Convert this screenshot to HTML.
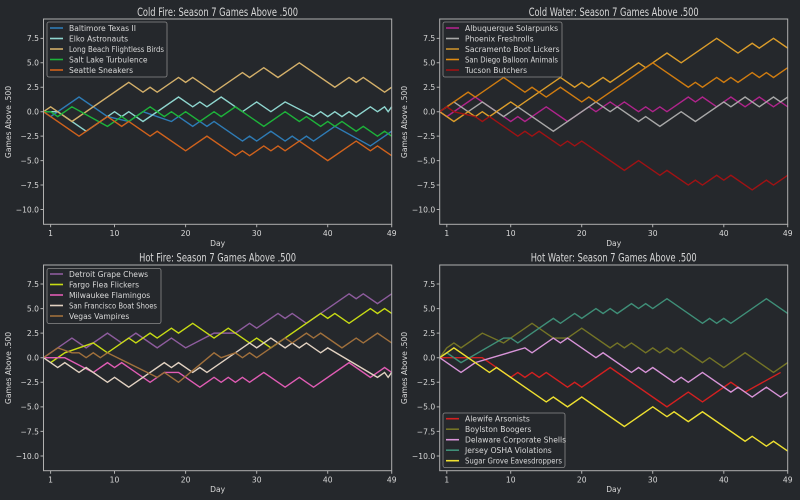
<!DOCTYPE html>
<html><head><meta charset="utf-8"><style>
html,body{margin:0;padding:0;background:#25282c;}
svg{display:block;font-family:"DejaVu Sans","Liberation Sans",sans-serif;}
text{fill:#d8d8d8;}
.t{font-size:11.5px;text-anchor:middle;}
.tk{font-size:7.6px;}
.lg{font-size:7.6px;}
polyline{fill:none;stroke-width:1.4;vector-effect:non-scaling-stroke;stroke-linejoin:miter;}
.ax{fill:none;stroke:#b0b0b0;stroke-width:1;}
.tl{stroke:#b0b0b0;stroke-width:1;}
.lb{fill:#25282c;stroke:#8a8a8a;stroke-width:0.8;}
</style></head><body>
<svg width="800" height="500" viewBox="0 0 800 500">
<rect width="800" height="500" fill="#25282c"/>

<g>
<text class="t" x="217.6" y="15.8" textLength="161" lengthAdjust="spacingAndGlyphs">Cold Fire: Season 7 Games Above .500</text>
<g transform="translate(43.5,111.7) scale(7.106,-9.78)">
<polyline stroke="#2e7bb5" points="0,0 1,-0.5 5,1.5 9,-0.5 12,-1 14,0 18,-1 19,-0.5 21,-1.5 22,-1 23,-1.5 24,-1 28,-3 29,-2.5 30,-3 32,-2 34,-3 35,-2.5 36,-3 37,-2.5 38,-3 41,-1.5 46,-3.5 48,-2.5 49,-2"/>
<polyline stroke="#8fd6cf" points="0,0 2,0 6,-2 10,0 11,-0.5 12,0 14,-1 19,1.5 21,0.5 22,1 23,0.5 25,1.5 28,0 30,1 32,0 34,1 38,-0.5 39,0 40,-0.5 41,0 42,-0.5 43,0 44,-0.5 46,0.5 47,0 48,0.5 48.5,0 49,0.5"/>
<polyline stroke="#d4b06a" points="0,0 1,0.5 4,-1 12,3 14,2 15,2.5 16,2 19,3.5 20,3 21,3.5 24,2 28,4 29,3.5 31,4.5 33,3.5 36,5 41,2.5 43,3.5 44,3 45,3.5 48,2 49,2.5"/>
<polyline stroke="#1db33a" points="0,0 1,0 2,-0.5 4,0.5 9,-1.5 11,-0.5 12,-1 15,0.5 17,-0.5 18,0 19,-0.5 20,0 22,-1 24,0 25,-0.5 27,0.5 31,-1.5 34,0 36,-1 37,-0.5 39,-1.5 40,-1 41,-1.5 42,-1 44,-2 45,-1.5 47,-2.5 48,-2 49,-2.5"/>
<polyline stroke="#d0621c" points="0,0 5,-2.5 9,-0.5 11,-1.5 12,-1 15,-2.5 16,-2 20,-4 23,-2.5 27,-4.5 28,-4 29,-4.5 31,-3.5 32,-4 33,-3.5 34,-4 36,-3 40,-5 44,-3 46,-4 47,-3.5 49,-4.5"/>
</g>
<rect class="ax" x="43.5" y="19" width="348.2" height="205.3"/>
</g>

<g>
<text class="t" x="613.7" y="15.8" textLength="170" lengthAdjust="spacingAndGlyphs">Cold Water: Season 7 Games Above .500</text>
<g transform="translate(439.7,111.7) scale(7.102,-9.78)">
<polyline stroke="#b0248c" points="0,0 1,-0.5 5,1.5 6,1 9,-0.5 10,-1 11,-0.5 12,-1 15,0.5 18,-1 21,0.5 22,0 24,1 25,0.5 26,1 28,0 29,0.5 30,0 31,0.5 32,0 35,1.5 36,1 37,1.5 39,0.5 41,1.5 43,0.5 45,1.5 47,0.5 48,1 49,0.5"/>
<polyline stroke="#a8a8a8" points="0,0 2,1 4,0 6,1 9,-0.5 11,0.5 16,-2 22,1 24,0 25,0.5 28,-1 29,-0.5 31,-1.5 34,0 36,-1 40,1 41,0.5 43,1.5 45,0.5 47,1.5 48,1 49,1.5"/>
<polyline stroke="#dc9d2a" points="0,0 2,-1 4,0 5,-0.5 6,0 7,-0.5 10,1 11,0.5 17,3.5 19,2.5 20,3 21,2.5 23,3.5 24,3 28,5 29,4.5 32,6 34,5 39,7.5 42,6 44,7 45,6.5 47,7.5 49,6.5"/>
<polyline stroke="#d07c10" points="0,0 4,2 5,1.5 9,3.5 12,2 13,2.5 15,1.5 17,2.5 20,1 21,1.5 22,1 30,5 35,2.5 36,3 37,2.5 39,3.5 40,3 41,3.5 42,3 44,4 45,3.5 46,4 47,3.5 49,4.5"/>
<polyline stroke="#a01214" points="0,0 1,0.5 2,0 5,-0.5 6,-1 7,-0.5 11,-2.5 12,-2 13,-2.5 14,-2 17,-3.5 18,-3 19,-3.5 20,-3 26,-6 28,-5 31,-6.5 32,-6 35,-7.5 36,-7 37,-7.5 39,-6.5 40,-7 41,-6.5 44,-8 46,-7 47,-7.5 49,-6.5"/>
</g>
<rect class="ax" x="439.7" y="19" width="348" height="205.3"/>
</g>

<g>
<text class="t" x="217.6" y="261.3" textLength="157" lengthAdjust="spacingAndGlyphs">Hot Fire: Season 7 Games Above .500</text>
<g transform="translate(43.5,357.7) scale(7.106,-9.83)">
<polyline stroke="#8e5c9e" points="0,0 4,2 6,1 9,2.5 11,1.5 13,2.5 16,1 18,2 20,1 24,2.5 27,2.5 29,3.5 30,3 33,4.5 34,4 35,4.5 37,3.5 43,6.5 44,6 45,6.5 47,5.5 49,6.5"/>
<polyline stroke="#c8dc14" points="1,-0.5 3,0.5 7,1.5 9,0.5 12,2 13,1.5 15,2.5 16,2 18,3 19,2.5 21,3.5 24,2 26,3 29,1.5 30,2 32,1 39,4.5 40,4 41,4.5 43,3.5 46,5 47,4.5 48,5 49,4.5"/>
<polyline stroke="#e05cb4" points="0,0 3,0 7,-1.5 9,-0.5 10,-1 11,-0.5 15,-2.5 17,-1.5 19,-1.5 20,-2 22,-3 24,-2 25,-2.5 26,-2 27,-2.5 28,-2 29,-2.5 31,-1.5 34,-3 36,-2 38,-3 43,-0.5 46,-2 48,-1 49,-1.5"/>
<polyline stroke="#e2d2c2" points="0,0 2,-1 3,-0.5 5,-1.5 6,-1 9,-2.5 10,-2 12,-3 17,-0.5 18,-1 19,-0.5 21,-1.5 22,-1 23,-1.5 29,1.5 30,1 32,2 34,1 35,1.5 36,1 37,1.5 39,0.5 40,1 47,-2 48,-1.5 48.5,-2 49,-1.5"/>
<polyline stroke="#a0703c" points="0,0 2,1 4,0.5 5,0.5 6,0 7,0.5 8,0 9,0.5 16,-2 17,-1.5 19,-2.5 24,0.5 25,0 27,0.5 28,0 29,0.5 30,0 34,2 35,1.5 37,2.5 38,2 39,2.5 42,1 44,2 45,1.5 47,2.5 49,1.5"/>
</g>
<rect class="ax" x="43.5" y="265" width="348.2" height="205.7"/>
</g>

<g>
<text class="t" x="613.7" y="261.3" textLength="166" lengthAdjust="spacingAndGlyphs">Hot Water: Season 7 Games Above .500</text>
<g transform="translate(439.7,357.7) scale(7.102,-9.83)">
<polyline stroke="#d42020" points="0,0 6,0 10,-2 11,-1.5 12,-2 13,-1.5 14,-2 15,-1.5 18,-3 19,-2.5 20,-3 24,-1 32,-5 35,-3.5 37,-4.5 41,-2.5 42,-3 43,-3.5 48,-1.5"/>
<polyline stroke="#747426" points="0,0 1,1 2,1.5 3,1 6,2.5 9,1.5 13,3.5 16,2 18,2 20,3 24,1 25,1.5 26,1 27,1.5 29,0.5 30,1 31,0.5 32,1 33,0.5 34,1 37,-0.5 38,0 40,-1 43,0.5 47,-1.5 49,-0.5"/>
<polyline stroke="#d894d8" points="0,0 3,-1.5 5,-0.5 12,1 13,0.5 16,2 17,1.5 18,2 22,0 23,0.5 27,-1.5 28,-1 29,-1.5 30,-1 33,-2.5 34,-2 35,-2.5 37,-1.5 41,-3.5 42,-3 44,-4 46,-3 48,-4 49,-3.5"/>
<polyline stroke="#3f8f78" points="0,0 1,0.5 3,-0.5 9,2 10,2 11,1.5 16,4 17,3.5 19,4.5 20,4 22,5 23,4.5 24,5 25,4.5 27,5.5 28,5 29,5.5 30,5 32,6 37,3.5 38,4 39,3.5 40,4 41,3.5 46,6 49,4.5"/>
<polyline stroke="#eee030" points="0,0 2,1 7,-1.5 8,-1 15,-4.5 16,-4 18,-5 20,-4 26,-7 30,-5 32,-6 33,-5.5 35,-6.5 37,-5.5 43,-8.5 44,-8 46,-9 47,-8.5 49,-9.5"/>
</g>
<rect class="ax" x="439.7" y="265" width="348" height="205.7"/>
</g>

<g class="tk">
<g text-anchor="end">
<text x="39" y="41.2">7.5</text><text x="39" y="65.6">5.0</text><text x="39" y="90.1">2.5</text><text x="39" y="114.5">0.0</text><text x="39" y="139">−2.5</text><text x="39" y="163.4">−5.0</text><text x="39" y="187.9">−7.5</text><text x="39" y="212.3">−10.0</text>
<text x="435.2" y="41.2">7.5</text><text x="435.2" y="65.6">5.0</text><text x="435.2" y="90.1">2.5</text><text x="435.2" y="114.5">0.0</text><text x="435.2" y="139">−2.5</text><text x="435.2" y="163.4">−5.0</text><text x="435.2" y="187.9">−7.5</text><text x="435.2" y="212.3">−10.0</text>
<text x="39" y="286.8">7.5</text><text x="39" y="311.4">5.0</text><text x="39" y="336">2.5</text><text x="39" y="360.5">0.0</text><text x="39" y="385.1">−2.5</text><text x="39" y="409.7">−5.0</text><text x="39" y="434.3">−7.5</text><text x="39" y="458.8">−10.0</text>
<text x="435.2" y="286.8">7.5</text><text x="435.2" y="311.4">5.0</text><text x="435.2" y="336">2.5</text><text x="435.2" y="360.5">0.0</text><text x="435.2" y="385.1">−2.5</text><text x="435.2" y="409.7">−5.0</text><text x="435.2" y="434.3">−7.5</text><text x="435.2" y="458.8">−10.0</text>
</g>
<g class="tl">
<path d="M40.5 38.35h3M40.5 62.8h3M40.5 87.25h3M40.5 111.7h3M40.5 136.15h3M40.5 160.6h3M40.5 185.05h3M40.5 209.5h3"/>
<path d="M436.7 38.35h3M436.7 62.8h3M436.7 87.25h3M436.7 111.7h3M436.7 136.15h3M436.7 160.6h3M436.7 185.05h3M436.7 209.5h3"/>
<path d="M40.5 284h3M40.5 308.6h3M40.5 333.1h3M40.5 357.7h3M40.5 382.3h3M40.5 406.9h3M40.5 431.4h3M40.5 456h3"/>
<path d="M436.7 284h3M436.7 308.6h3M436.7 333.1h3M436.7 357.7h3M436.7 382.3h3M436.7 406.9h3M436.7 431.4h3M436.7 456h3"/>
<path d="M50.6 224.3v3M114.5 224.3v3M185.6 224.3v3M256.7 224.3v3M327.7 224.3v3M391.7 224.3v3"/>
<path d="M446.8 224.3v3M510.7 224.3v3M581.7 224.3v3M652.7 224.3v3M723.8 224.3v3M787.7 224.3v3"/>
<path d="M50.6 470.7v3M114.5 470.7v3M185.6 470.7v3M256.7 470.7v3M327.7 470.7v3M391.7 470.7v3"/>
<path d="M446.8 470.7v3M510.7 470.7v3M581.7 470.7v3M652.7 470.7v3M723.8 470.7v3M787.7 470.7v3"/>
</g>
<g text-anchor="middle">
<text x="50.6" y="236">1</text><text x="114.5" y="236">10</text><text x="185.6" y="236">20</text><text x="256.7" y="236">30</text><text x="327.7" y="236">40</text><text x="391.7" y="236">49</text>
<text x="446.8" y="236">1</text><text x="510.7" y="236">10</text><text x="581.7" y="236">20</text><text x="652.7" y="236">30</text><text x="723.8" y="236">40</text><text x="787.7" y="236">49</text>
<text x="50.6" y="482.5">1</text><text x="114.5" y="482.5">10</text><text x="185.6" y="482.5">20</text><text x="256.7" y="482.5">30</text><text x="327.7" y="482.5">40</text><text x="391.7" y="482.5">49</text>
<text x="446.8" y="482.5">1</text><text x="510.7" y="482.5">10</text><text x="581.7" y="482.5">20</text><text x="652.7" y="482.5">30</text><text x="723.8" y="482.5">40</text><text x="787.7" y="482.5">49</text>
<text x="217.6" y="246">Day</text><text x="613.7" y="246">Day</text>
<text x="217.6" y="492">Day</text><text x="613.7" y="492">Day</text>
</g>
<text text-anchor="middle" transform="translate(11,122) rotate(-90)">Games Above .500</text>
<text text-anchor="middle" transform="translate(407,122) rotate(-90)">Games Above .500</text>
<text text-anchor="middle" transform="translate(11,368) rotate(-90)">Games Above .500</text>
<text text-anchor="middle" transform="translate(407,368) rotate(-90)">Games Above .500</text>
</g>

<g class="lg">
<rect class="lb" x="47" y="22" width="120" height="55" rx="2"/>
<path d="M50 28h13" stroke="#2e7bb5" stroke-width="1.6"/><text x="69" y="30.8">Baltimore Texas II</text>
<path d="M50 38.5h13" stroke="#8fd6cf" stroke-width="1.6"/><text x="69" y="41.3">Elko Astronauts</text>
<path d="M50 49h13" stroke="#d4b06a" stroke-width="1.6"/><text x="69" y="51.8" textLength="95" lengthAdjust="spacingAndGlyphs">Long Beach Flightless Birds</text>
<path d="M50 59.5h13" stroke="#1db33a" stroke-width="1.6"/><text x="69" y="62.3">Salt Lake Turbulence</text>
<path d="M50 70h13" stroke="#d0621c" stroke-width="1.6"/><text x="69" y="72.8">Seattle Sneakers</text>

<rect class="lb" x="443" y="22" width="119" height="55" rx="2"/>
<path d="M446 28h13" stroke="#b0248c" stroke-width="1.6"/><text x="465" y="30.8">Albuquerque Solarpunks</text>
<path d="M446 38.5h13" stroke="#a8a8a8" stroke-width="1.6"/><text x="465" y="41.3">Phoenix Freshrolls</text>
<path d="M446 49h13" stroke="#c8902c" stroke-width="1.6"/><text x="465" y="51.8">Sacramento Boot Lickers</text>
<path d="M446 59.5h13" stroke="#e08a12" stroke-width="1.6"/><text x="465" y="62.3" textLength="93" lengthAdjust="spacingAndGlyphs">San Diego Balloon Animals</text>
<path d="M446 70h13" stroke="#a01214" stroke-width="1.6"/><text x="465" y="72.8">Tucson Butchers</text>

<rect class="lb" x="47" y="268.5" width="114" height="55" rx="2"/>
<path d="M50 274h13" stroke="#8e5c9e" stroke-width="1.6"/><text x="69" y="276.8">Detroit Grape Chews</text>
<path d="M50 284.5h13" stroke="#c8dc14" stroke-width="1.6"/><text x="69" y="287.3">Fargo Flea Flickers</text>
<path d="M50 295h13" stroke="#e05cb4" stroke-width="1.6"/><text x="69" y="297.8">Milwaukee Flamingos</text>
<path d="M50 305.5h13" stroke="#e2d2c2" stroke-width="1.6"/><text x="69" y="308.3" textLength="88" lengthAdjust="spacingAndGlyphs">San Francisco Boat Shoes</text>
<path d="M50 316h13" stroke="#a0703c" stroke-width="1.6"/><text x="69" y="318.8">Vegas Vampires</text>

<rect class="lb" x="443" y="413" width="122" height="54.5" rx="2"/>
<path d="M446 418.7h13" stroke="#d42020" stroke-width="1.6"/><text x="465" y="421.5">Alewife Arsonists</text>
<path d="M446 429.2h13" stroke="#747426" stroke-width="1.6"/><text x="465" y="432">Boylston Boogers</text>
<path d="M446 439.7h13" stroke="#d894d8" stroke-width="1.6"/><text x="465" y="442.5">Delaware Corporate Shells</text>
<path d="M446 450.2h13" stroke="#3f8f78" stroke-width="1.6"/><text x="465" y="453">Jersey OSHA Violations</text>
<path d="M446 460.7h13" stroke="#eee030" stroke-width="1.6"/><text x="465" y="463.5" textLength="97" lengthAdjust="spacingAndGlyphs">Sugar Grove Eavesdroppers</text>
</g>
</svg>
</body></html>
